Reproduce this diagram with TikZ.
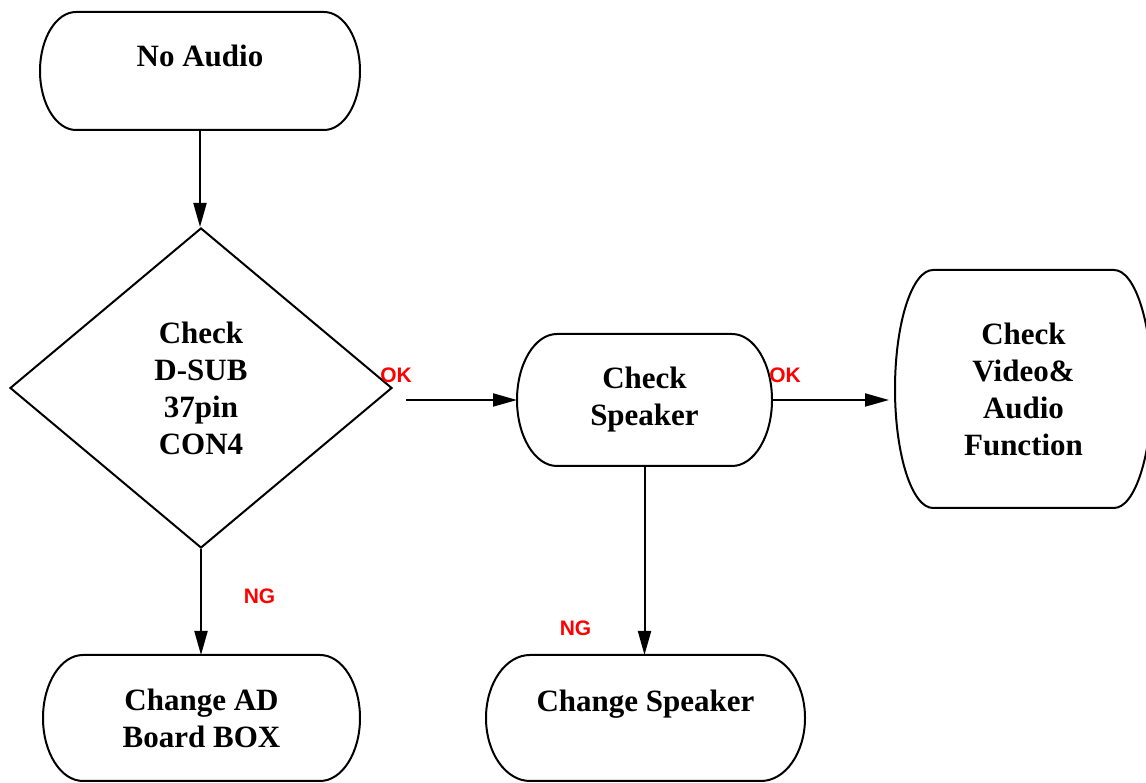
\documentclass[tikz,border=0pt]{standalone}
\usepackage{fontspec}
\setmainfont{Liberation Serif}
\newfontfamily\tagfont{Liberation Sans}
\usepackage{tikz}
\usetikzlibrary{arrows.meta,shapes.geometric}
\tikzstyle{box}=[draw=none,outer sep=0pt,minimum height=126pt,align=center,font=\bfseries\fontsize{31}{37}\selectfont]
\tikzstyle{decision}=[diamond,draw,minimum width=382pt,minimum height=320pt,inner sep=0pt,align=center,font=\bfseries\fontsize{31}{37}\selectfont]
\tikzstyle{arrow}=[draw,-{Triangle[length=24pt,width=13pt]}]
\tikzstyle{tag}=[text=red,font=\tagfont\bfseries\fontsize{21}{21}\selectfont]
% outline with half-ellipse ends
\newcommand{\capsule}[3]{%
  \draw ([xshift=#2]#1.north west) -- ([xshift=-#2]#1.north east)
    arc[start angle=90,end angle=-90,x radius=#2,y radius=#3]
    -- ([xshift=#2]#1.south west)
    arc[start angle=270,end angle=90,x radius=#2,y radius=#3] -- cycle;}

\begin{document}
\begin{tikzpicture}[x=1pt,y=1pt,line width=2pt]
    \useasboundingbox (0,0) rectangle (1146,783);
    \node[box,minimum width=320pt,minimum height=118pt,text height=21pt,text depth=29pt] (noaudio) at (200,712) {No Audio};
    \node[decision] (dsub) at (201,395) {Check\\D-SUB\\37pin\\CON4};
    \node[box,minimum width=255pt,minimum height=132pt] (spk) at (644.5,383) {Check\\Speaker};
    \node[box,minimum width=257pt,minimum height=238pt] (avfunc) at (1023.5,394) {Check\\Video\&\\Audio\\Function};
    \node[box,minimum width=317pt] (chad) at (201.5,65) {Change AD\\Board BOX};
    \node[box,minimum width=319pt,text height=21pt,text depth=33pt] (chspk) at (645.5,65) {Change Speaker};
    \foreach \name/\rx/\ry in {noaudio/36pt/59pt, spk/40pt/66pt, avfunc/38pt/119pt, chad/40pt/63pt, chspk/44pt/63pt}
        \capsule{\name}{\rx}{\ry};
    \foreach \source/\dest in {noaudio.south/dsub.north, dsub.south/chad.north, spk.south/chspk.north}
        \path[arrow] (\source) -- (\source |- \dest);
    \path[arrow] ([xshift=13pt]dsub.east |- spk.west) -- (spk.west);
    \path[arrow] (spk.east) -- ([xshift=-6pt]avfunc.west |- spk.east);
    \node[tag] (okdsub) at (396,408) {OK};
    \node[tag] (okspk) at (785,408) {OK};
    \node[tag] (ngdsub) at (259.5,187) {NG};
    \node[tag] (ngspk) at (575.5,155) {NG};
\end{tikzpicture}
\end{document}
